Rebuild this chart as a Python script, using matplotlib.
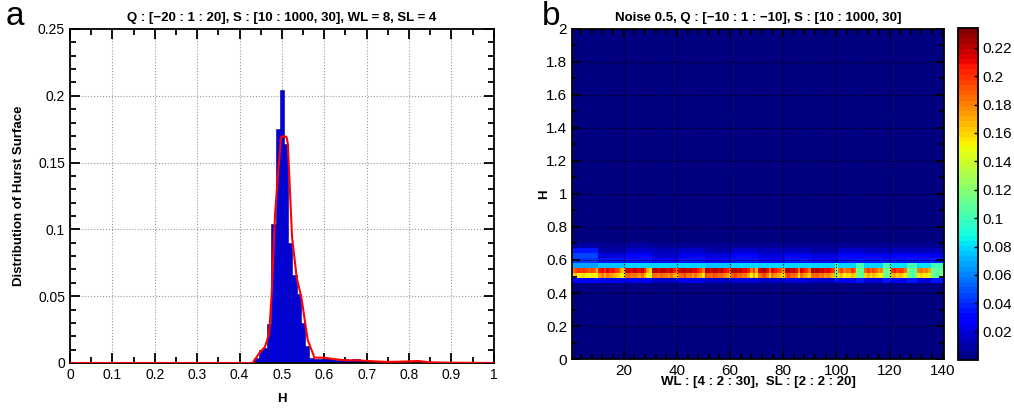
import numpy as np
import matplotlib
matplotlib.use('Agg')
import matplotlib.pyplot as plt
from matplotlib.ticker import MultipleLocator

plt.rcParams['font.family'] = ['Liberation Sans', 'DejaVu Sans']

# ---- panel a : histogram of H (bin width 0.01) + density curve
hist_centers = [0.43, 0.44, 0.45, 0.46, 0.47, 0.48, 0.49, 0.50, 0.51, 0.52, 0.53, 0.54,
                0.55, 0.56, 0.57, 0.58, 0.59, 0.60, 0.61, 0.62, 0.63, 0.64, 0.65, 0.66,
                0.67, 0.68, 0.69, 0.70, 0.71, 0.72]
hist_vals = [0.001, 0.004, 0.010, 0.011, 0.029, 0.104, 0.175, 0.204, 0.164, 0.090, 0.066, 0.052,
             0.030, 0.013, 0.004, 0.003, 0.003, 0.003, 0.004, 0.003, 0.002, 0.002, 0.003, 0.002,
             0.003, 0.003, 0.002, 0.001, 0.001, 0.001]

curve_h = [0.0, 0.43, 0.432, 0.448, 0.460, 0.470, 0.476, 0.484, 0.492, 0.498, 0.505, 0.511,
           0.514, 0.524, 0.535, 0.546, 0.561, 0.577, 0.60, 0.62, 0.65, 0.68, 0.70, 0.75,
           0.80, 0.82, 0.85, 0.90, 1.0]
curve_v = [0.0, 0.0, 0.0005, 0.008, 0.012, 0.022, 0.052, 0.112, 0.146, 0.169, 0.170, 0.169,
           0.164, 0.094, 0.064, 0.049, 0.017, 0.004, 0.004, 0.003, 0.002, 0.002, 0.0015, 0.0008,
           0.0012, 0.0015, 0.0005, 0.0002, 0.0]

# ---- panel b : Hurst surface distribution, 140 columns (WL x SL), rows of 0.03 in H
row_edges_start = -0.02
row_height = 0.03
n_rows = 68
background = 0.002

# row 0.46-0.49
row16 = [0.028, 0.022, 0.025, 0.018, 0.022, 0.018, 0.020, 0.018, 0.020, 0.018, 0.022, 0.020, 0.022, 0.020]
# row 0.49-0.52 (yellow / orange row)
row17 = [160, 165, 150, 155, 160, 150, 145, 155, 150, 140,
         175, 180, 170, 180, 175, 170, 165, 160, 150, 145,
         185, 190, 180, 185, 180, 175, 185, 170, 150, 140,
         190, 185, 180, 190, 185, 180, 175, 185, 170, 160,
         185, 190, 195, 180, 185, 175, 185, 175, 170, 155,
         195, 190, 185, 195, 190, 185, 190, 180, 175, 160,
         190, 195, 185, 190, 180, 185, 170, 150, 175, 150,
         185, 190, 195, 180, 160, 185, 175, 170, 165, 150,
         190, 195, 185, 190, 180, 155, 185, 175, 170, 160,
         190, 185, 190, 180, 185, 175, 180, 170, 165, 115,
         160, 165, 150, 160, 155, 165, 160, 115, 110, 105,
         160, 170, 155, 165, 160, 150, 150, 115, 110, 120,
         165, 170, 160, 165, 160, 150, 115, 110, 105, 110,
         155, 160, 150, 155, 145, 115, 110, 105, 110, 115]
# row 0.52-0.55 (red row)
row18 = [190, 195, 200, 195, 200, 195, 190, 195, 190, 165,
         205, 210, 200, 215, 205, 210, 200, 195, 170, 160,
         215, 220, 210, 220, 215, 210, 220, 205, 175, 160,
         220, 225, 215, 220, 225, 215, 210, 220, 205, 185,
         215, 220, 225, 215, 220, 210, 215, 205, 200, 180,
         225, 220, 215, 225, 220, 215, 225, 210, 205, 190,
         220, 225, 215, 220, 210, 215, 205, 180, 200, 170,
         215, 220, 225, 210, 190, 215, 205, 200, 195, 175,
         220, 225, 215, 220, 210, 180, 215, 205, 200, 185,
         225, 220, 225, 215, 220, 210, 215, 205, 200, 120,
         185, 195, 180, 190, 185, 200, 190, 115, 110, 105,
         190, 200, 185, 195, 190, 175, 180, 115, 110, 120,
         200, 205, 195, 200, 195, 185, 115, 110, 105, 110,
         180, 185, 175, 180, 170, 115, 110, 105, 110, 115]
# row 0.55-0.58 (cyan row)
row19 = [0.068, 0.075, 0.078, 0.078, 0.078, 0.076, 0.078, 0.078, 0.078, 0.078, 0.080, 0.080, 0.082, 0.082]
# rows above the band, one value per WL group
row20 = [0.042, 0.034, 0.036, 0.032, 0.034, 0.032, 0.034, 0.032, 0.034, 0.032, 0.036, 0.034, 0.036, 0.034]
row21 = [0.045, 0.020, 0.026, 0.018, 0.024, 0.020, 0.026, 0.020, 0.024, 0.020, 0.026, 0.022, 0.026, 0.024]
row22 = [0.035, 0.010, 0.018, 0.012, 0.016, 0.010, 0.016, 0.012, 0.014, 0.010, 0.016, 0.012, 0.014, 0.014]
row23 = [0.008, 0.004, 0.010, 0.004, 0.006, 0.004, 0.006, 0.004, 0.006, 0.004, 0.006, 0.004, 0.006, 0.004]

x_ticks_b = [20, 40, 60, 80, 100, 120, 140]
cbar_ticks = [0.02, 0.04, 0.06, 0.08, 0.1, 0.12, 0.14, 0.16, 0.18, 0.2, 0.22]


def fmt(v, p):
    return '%g' % round(v, 2)


# ---- build surface
n_cols = len(row18)
Z = np.full((n_rows, n_cols), background)
Z[16] = np.repeat(row16, 10)
Z[17] = np.array(row17) / 1000.0
Z[18] = np.array(row18) / 1000.0
Z[19] = np.repeat(row19, 10)
# wider spread where the peak drops
low = Z[18] < 0.13
Z[19][low] = 0.10
Z[16][low] = 0.035
Z[20] = np.repeat(row20, 10)
Z[21] = np.repeat(row21, 10)
Z[22] = np.repeat(row22, 10)
Z[23] = np.repeat(row23, 10)
x_edges = np.arange(n_cols + 1) + 0.5
y_edges = row_edges_start + row_height * np.arange(n_rows + 1)

fig = plt.figure(figsize=(10.14, 4.11), dpi=100)

# ---------------- panel a
ax1 = fig.add_axes([0.069, 0.1168, 0.418, 0.8127])
ax1.bar(hist_centers, hist_vals, width=0.01, color='#0000e6', edgecolor='#000060', linewidth=0.4, zorder=2)
ax1.plot(curve_h, curve_v, color='red', lw=1.5, zorder=3)
ax1.set_xlim(0, 1)
ax1.set_ylim(0, 0.25)
ax1.xaxis.set_major_locator(MultipleLocator(0.1))
ax1.xaxis.set_minor_locator(MultipleLocator(0.05))
ax1.yaxis.set_major_locator(MultipleLocator(0.05))
ax1.yaxis.set_minor_locator(MultipleLocator(0.01))
ax1.xaxis.set_major_formatter(plt.FuncFormatter(fmt))
ax1.yaxis.set_major_formatter(plt.FuncFormatter(fmt))
ax1.grid(True, which='major', linestyle=':', color='#999999', lw=0.8, zorder=0)
ax1.set_axisbelow(True)
ax1.tick_params(which='both', direction='in', top=True, right=True, labelsize=10, width=1.3)
ax1.tick_params(which='major', length=7)
ax1.tick_params(which='minor', length=4)
for s in ax1.spines.values():
    s.set_linewidth(1.3)
ax1.set_xlabel('H', fontsize=9.5, fontweight='bold', labelpad=8)
ax1.set_ylabel('Distribution of Hurst Surface', fontsize=9.5, fontweight='bold', labelpad=9)
ax1.set_title('Q : [\u221220 : 1 : 20], S : [10 : 1000, 30], WL = 8, SL = 4',
              fontsize=9.5, fontweight='bold', pad=6)
fig.text(0.006, 0.938, 'a', fontsize=24, va='baseline')

# ---------------- panel b
ax2 = fig.add_axes([0.564, 0.1265, 0.367, 0.803])
cmap = plt.get_cmap('jet', 64)
mesh = ax2.pcolormesh(x_edges, y_edges, Z, cmap=cmap, vmin=0, vmax=0.234, shading='flat')
ax2.set_xlim(0.5, 140.5)
ax2.set_ylim(0, 2)
ax2.set_xticks(x_ticks_b)
ax2.yaxis.set_major_locator(MultipleLocator(0.2))
ax2.yaxis.set_minor_locator(MultipleLocator(0.1))
ax2.xaxis.set_minor_locator(MultipleLocator(4))
ax2.yaxis.set_major_formatter(plt.FuncFormatter(fmt))
ax2.grid(True, which='major', linestyle=':', color='black', lw=0.8)
ax2.tick_params(which='both', direction='in', top=True, right=True, labelsize=11, width=1.3)
ax2.tick_params(which='major', length=6)
ax2.tick_params(which='minor', length=3.5)
for s in ax2.spines.values():
    s.set_linewidth(1.3)
ax2.set_xlabel('WL : [4 : 2 : 30],  SL : [2 : 2 : 20]', fontsize=9.5, fontweight='bold', labelpad=-1)
ax2.set_ylabel('H', fontsize=9.5, fontweight='bold', labelpad=-3)
ax2.set_title('Noise 0.5, Q : [\u221210 : 1 : \u221210], S : [10 : 1000, 30]',
              fontsize=9.5, fontweight='bold', pad=6)
fig.text(0.534, 0.938, 'b', fontsize=24, va='baseline')

cax = fig.add_axes([0.9448, 0.124, 0.0197, 0.808])
cb = fig.colorbar(mesh, cax=cax)
cb.set_ticks(cbar_ticks)
cb.ax.yaxis.set_major_formatter(plt.FuncFormatter(fmt))
cb.ax.tick_params(direction='in', labelsize=11, length=3, width=1)
cb.outline.set_linewidth(1.3)

fig.savefig('out.png', dpi=100)
